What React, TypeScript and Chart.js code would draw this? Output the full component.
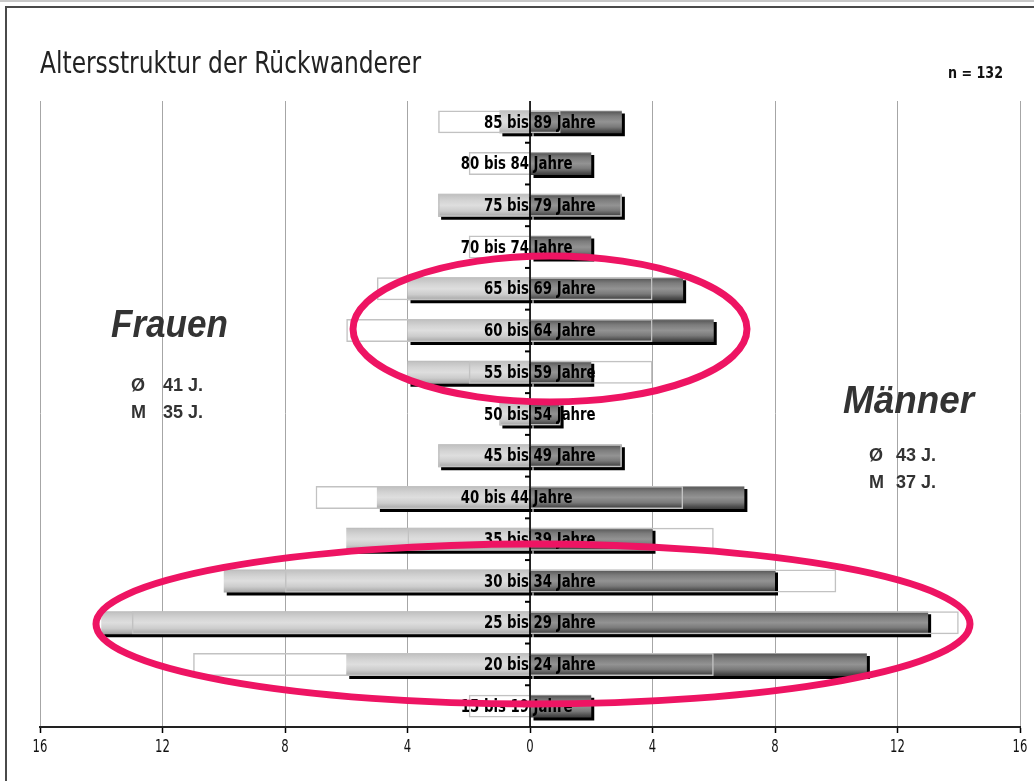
import React, { useEffect, useRef } from "react";
import { Chart, registerables } from "chart.js";

Chart.register(...registerables);

// ---------- data ----------
const ageGroups = [
  "85 bis 89 Jahre",
  "80 bis 84 Jahre",
  "75 bis 79 Jahre",
  "70 bis 74 Jahre",
  "65 bis 69 Jahre",
  "60 bis 64 Jahre",
  "55 bis 59 Jahre",
  "50 bis 54 Jahre",
  "45 bis 49 Jahre",
  "40 bis 44 Jahre",
  "35 bis 39 Jahre",
  "30 bis 34 Jahre",
  "25 bis 29 Jahre",
  "20 bis 24 Jahre",
  "15 bis 19 Jahre",
];
// number of words of each label that sit left of the zero line
const labelWordsLeft = [2, 3, 2, 3, 2, 2, 2, 2, 2, 3, 2, 2, 2, 2, 3];
const women = [1, 0, 3, 0, 4, 4, 4, 1, 3, 5, 6, 10, 14, 6, 0];
const men = [3, 2, 3, 2, 5, 6, 2, 1, 3, 7, 4, 8, 13, 11, 2];
const xTickValues = [-16, -12, -8, -4, 0, 4, 8, 12, 16];

const titleText = "Altersstruktur der Rückwanderer";
const sampleText = "n = 132";
const womenLabel = "Frauen";
const menLabel = "Männer";
const womenStats = [
  ["Ø", "41 J."],
  ["M", "35 J."],
];
const menStats = [
  ["Ø", "43 J."],
  ["M", "37 J."],
];

// ---------- styles ----------
const NARROW = '"Liberation Sans Narrow", "DejaVu Sans Condensed", "Liberation Sans", sans-serif';
const SANS = '"Liberation Sans", "DejaVu Sans", sans-serif';
const BAR_PCT = 0.55;
const PINK = "#ee1463";

const menStops: [number, string][] = [
  [0, "#c4c4c4"],
  [0.07, "#5c5c5c"],
  [0.25, "#7c7c7c"],
  [0.5, "#939393"],
  [0.72, "#7a7a7a"],
  [0.9, "#4e4e4e"],
  [1, "#3c3c3c"],
];
const womenStops: [number, string][] = [
  [0, "#b8b8b8"],
  [0.08, "#c4c4c4"],
  [0.3, "#d4d4d4"],
  [0.5, "#dedede"],
  [0.75, "#cccccc"],
  [0.92, "#b0b0b0"],
  [1, "#a0a0a0"],
];

function gradientFor(stops: [number, string][]) {
  return (c: any) => {
    const chart = c.chart;
    if (!chart.chartArea || c.type !== "data") return stops[3][1];
    const y = chart.scales.y;
    const yc = y.getPixelForValue(c.dataIndex);
    const half = ((y.height / ageGroups.length) * BAR_PCT) / 2;
    const g = chart.ctx.createLinearGradient(0, yc - half, 0, yc + half);
    stops.forEach(([o, col]) => g.addColorStop(o, col));
    return g;
  };
}

function drawFitted(
  ctx: CanvasRenderingContext2D,
  text: string,
  x: number,
  y: number,
  width: number
) {
  const w = ctx.measureText(text).width;
  ctx.save();
  ctx.translate(x, y);
  ctx.scale(width / w, 1);
  ctx.textAlign = "left";
  ctx.fillText(text, 0, 0);
  ctx.restore();
}

function drawScaled(
  ctx: CanvasRenderingContext2D,
  text: string,
  x: number,
  y: number,
  sx: number,
  align: CanvasTextAlign
) {
  ctx.save();
  ctx.translate(x, y);
  ctx.scale(sx, 1);
  ctx.textAlign = align;
  ctx.fillText(text, 0, 0);
  ctx.restore();
}

const LABEL_SX = 0.82;
const TICK_SX = 0.72;

const decorPlugin = {
  id: "decor",
  beforeDatasetDraw(chart: any, args: any) {
    const ds = chart.data.datasets[args.index];
    if (ds._shadow) {
      const ctx = chart.ctx;
      ctx.save();
      ctx.shadowColor = "#000";
      ctx.shadowOffsetX = 3;
      ctx.shadowOffsetY = 3;
      ctx.shadowBlur = 0;
    }
  },
  afterDatasetDraw(chart: any, args: any) {
    const ds = chart.data.datasets[args.index];
    if (ds._shadow) chart.ctx.restore();
  },
  afterDatasetsDraw(chart: any) {
    const ctx: CanvasRenderingContext2D = chart.ctx;
    const { top, bottom } = chart.chartArea;
    const xs = chart.scales.x;
    const ys = chart.scales.y;
    const x0 = xs.getPixelForValue(0);
    ctx.save();
    // zero line
    ctx.strokeStyle = "#000";
    ctx.lineWidth = 1.6;
    ctx.beginPath();
    ctx.moveTo(x0, top);
    ctx.lineTo(x0, bottom);
    ctx.stroke();
    // small category ticks
    ctx.lineWidth = 2;
    for (let i = 1; i < ageGroups.length; i++) {
      const yb = (ys.getPixelForValue(i - 1) + ys.getPixelForValue(i)) / 2;
      ctx.beginPath();
      ctx.moveTo(x0 - 5, yb);
      ctx.lineTo(x0, yb);
      ctx.stroke();
    }
    // category labels
    ctx.font = `bold 18px ${NARROW}`;
    ctx.fillStyle = "#000";
    ctx.textBaseline = "middle";
    ageGroups.forEach((lab, i) => {
      const left = lab.split(" ").slice(0, labelWordsLeft[i]).join(" ");
      const lw = ctx.measureText(left).width * LABEL_SX;
      const yc = ys.getPixelForValue(i) + 1;
      drawScaled(ctx, lab, x0 - lw - 1, yc, LABEL_SX, "left");
    });
    // x tick labels
    ctx.font = `18px ${NARROW}`;
    ctx.fillStyle = "#111";
    ctx.textBaseline = "middle";
    xTickValues.forEach((v) => {
      drawScaled(ctx, String(Math.abs(v)), xs.getPixelForValue(v), 747, TICK_SX, "center");
    });
    ctx.restore();
  },
  afterDraw(chart: any) {
    const ctx: CanvasRenderingContext2D = chart.ctx;
    ctx.save();
    // frame
    ctx.fillStyle = "#c8c8c8";
    ctx.fillRect(0, 0, 1034, 2);
    ctx.fillStyle = "#4a4a4a";
    ctx.fillRect(5, 6, 1029, 2);
    ctx.fillRect(5, 6, 2, 775);

    ctx.textBaseline = "alphabetic";
    // title
    ctx.fillStyle = "#222";
    ctx.font = `31px ${NARROW}`;
    drawFitted(ctx, titleText, 40, 73, 381);
    ctx.font = `bold 15px ${NARROW}`;
    ctx.fillStyle = "#111";
    drawFitted(ctx, sampleText, 948, 78, 55);

    // group labels
    ctx.fillStyle = "#333";
    ctx.font = `italic bold 39px ${SANS}`;
    drawFitted(ctx, womenLabel, 111, 337, 117);
    drawFitted(ctx, menLabel, 843, 413, 131);

    ctx.font = `bold 18px ${SANS}`;
    ctx.fillStyle = "#333";
    ctx.textAlign = "left";
    womenStats.forEach(([a, b], i) => {
      const y = 391 + i * 27;
      ctx.fillText(a, 131, y);
      ctx.fillText(b, 163, y);
    });
    menStats.forEach(([a, b], i) => {
      const y = 461 + i * 27;
      ctx.fillText(a, 869, y);
      ctx.fillText(b, 896, y);
    });

    // highlight ellipses
    ctx.strokeStyle = PINK;
    ctx.lineWidth = 7;
    ctx.beginPath();
    ctx.ellipse(550, 329, 197, 73, 0, 0, Math.PI * 2);
    ctx.stroke();
    ctx.beginPath();
    ctx.ellipse(533, 624, 437, 80, 0, 0, Math.PI * 2);
    ctx.stroke();
    ctx.restore();
  },
};

export default function App() {
  const ref = useRef<HTMLCanvasElement | null>(null);

  useEffect(() => {
    document.body.style.margin = "0";
    const canvas = ref.current!;
    const chart = new Chart(canvas, {
      type: "bar",
      data: {
        labels: ageGroups,
        datasets: [
          {
            label: "Frauen (Vergleich)",
            data: men.map((v) => -v),
            backgroundColor: "rgba(0,0,0,0)",
            borderColor: "#c2c2c2",
            borderWidth: 1.5,
            order: 0,
          } as any,
          {
            label: "Männer (Vergleich)",
            data: women.map((v) => v),
            backgroundColor: "rgba(0,0,0,0)",
            borderColor: "#c2c2c2",
            borderWidth: 1.5,
            order: 0,
          } as any,
          {
            label: "Männer",
            data: men,
            backgroundColor: gradientFor(menStops),
            borderWidth: 0,
            order: 1,
            _shadow: true,
          } as any,
          {
            label: "Frauen",
            data: women.map((v) => -v),
            backgroundColor: gradientFor(womenStops),
            borderWidth: 0,
            order: 2,
            _shadow: true,
          } as any,
        ],
      },
      options: {
        indexAxis: "y",
        responsive: false,
        animation: false,
        maintainAspectRatio: false,
        layout: { padding: { left: 40, right: 14, top: 101, bottom: 0 } },
        datasets: {
          bar: {
            grouped: false,
            barPercentage: BAR_PCT,
            categoryPercentage: 1,
          },
        },
        plugins: {
          legend: { display: false },
          tooltip: { enabled: false },
          title: { display: false },
        },
        scales: {
          x: {
            type: "linear",
            min: -16,
            max: 16,
            afterBuildTicks: (s: any) => {
              s.ticks = xTickValues.map((v) => ({ value: v }));
            },
            afterFit: (s: any) => {
              s.height = 54;
            },
            ticks: {
              display: false,
              callback: (v: any) => String(Math.abs(Number(v))),
            },
            grid: {
              color: "#a6a6a6",
              lineWidth: 1,
              tickLength: 6,
              tickColor: "#000",
              tickWidth: 1.5,
            },
            border: { display: true, color: "#222", width: 2 },
          },
          y: {
            type: "category",
            display: false,
            offset: true,
            grid: { display: false },
          },
        },
      },
      plugins: [decorPlugin],
    });
    return () => chart.destroy();
  }, []);

  return (
    <div style={{ width: 1034, height: 781, position: "relative", overflow: "hidden", background: "#fff" }}>
      <canvas ref={ref} width={1034} height={781} style={{ display: "block" }} />
    </div>
  );
}
